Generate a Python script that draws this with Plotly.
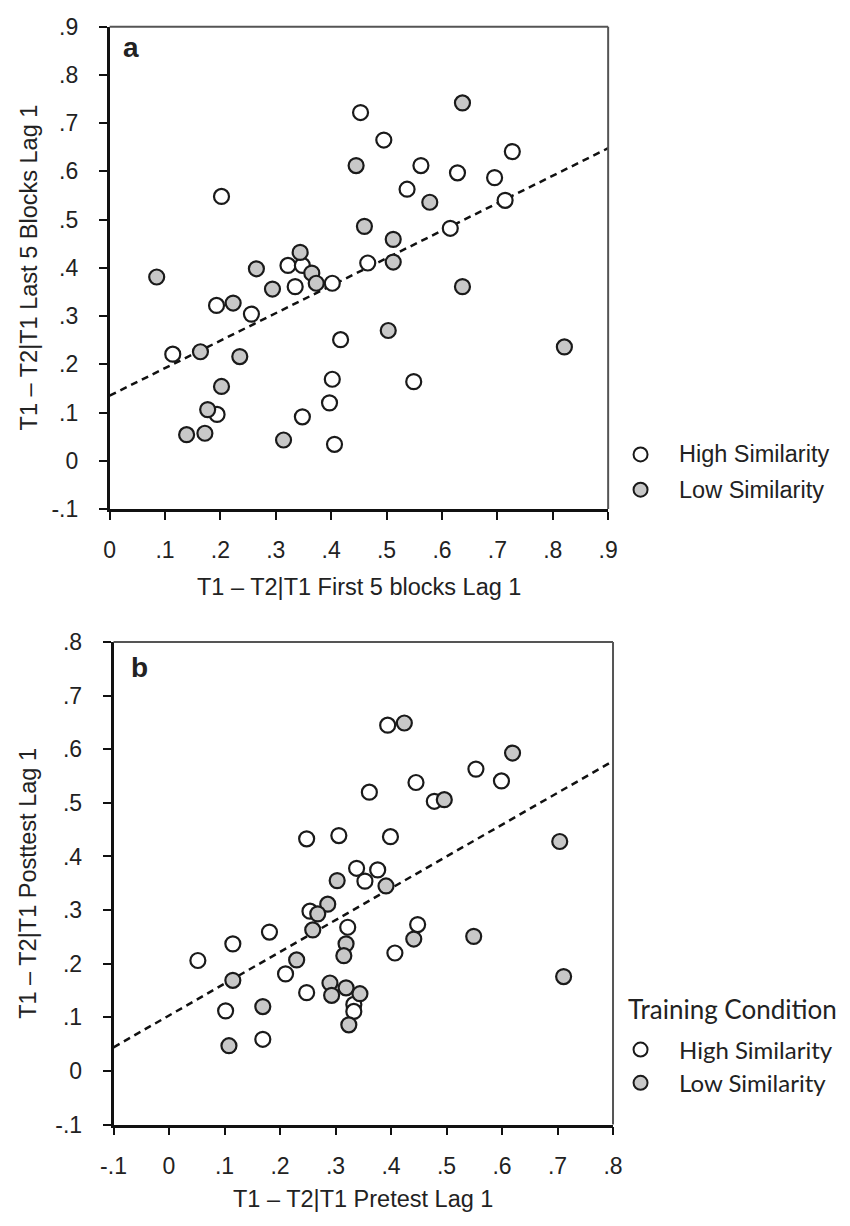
import plotly.graph_objects as go

W, H = 850, 1226

# ---- Panel a: first 5 blocks vs last 5 blocks (Lag 1) ----
a_high_x = [0.202, 0.453, 0.495, 0.727, 0.562, 0.628, 0.695, 0.537, 0.714, 0.615,
            0.466, 0.322, 0.348, 0.335, 0.402, 0.193, 0.256, 0.417, 0.114, 0.402,
            0.397, 0.194, 0.348, 0.406, 0.549]
a_high_y = [0.548, 0.722, 0.665, 0.641, 0.612, 0.597, 0.587, 0.563, 0.540, 0.482,
            0.410, 0.405, 0.405, 0.361, 0.368, 0.322, 0.304, 0.251, 0.221, 0.169,
            0.120, 0.096, 0.091, 0.034, 0.164]
a_low_x = [0.637, 0.445, 0.578, 0.460, 0.512, 0.512, 0.344, 0.265, 0.365, 0.373,
           0.085, 0.294, 0.223, 0.164, 0.235, 0.202, 0.177, 0.139, 0.172, 0.314,
           0.637, 0.503, 0.821]
a_low_y = [0.742, 0.612, 0.536, 0.486, 0.459, 0.412, 0.432, 0.398, 0.389, 0.368,
           0.381, 0.356, 0.327, 0.226, 0.216, 0.154, 0.106, 0.054, 0.057, 0.043,
           0.361, 0.270, 0.236]
a_fit_x = [0.0, 0.9]
a_fit_y = [0.135, 0.648]

# ---- Panel b: pretest vs posttest (Lag 1) ----
b_high_x = [0.394, 0.553, 0.599, 0.445, 0.361, 0.478, 0.399, 0.248, 0.306, 0.376,
            0.338, 0.353, 0.254, 0.322, 0.448, 0.181, 0.115, 0.052, 0.407, 0.210,
            0.248, 0.333, 0.333, 0.102, 0.169]
b_high_y = [0.645, 0.563, 0.541, 0.538, 0.520, 0.503, 0.437, 0.433, 0.439, 0.375,
            0.378, 0.354, 0.298, 0.268, 0.273, 0.259, 0.237, 0.206, 0.220, 0.181,
            0.146, 0.124, 0.111, 0.112, 0.059]
b_low_x = [0.424, 0.619, 0.496, 0.704, 0.303, 0.391, 0.286, 0.268, 0.259, 0.319,
           0.315, 0.230, 0.115, 0.290, 0.293, 0.319, 0.344, 0.324, 0.169, 0.108,
           0.441, 0.549, 0.711]
b_low_y = [0.649, 0.593, 0.506, 0.428, 0.355, 0.345, 0.311, 0.293, 0.263, 0.237,
           0.215, 0.207, 0.169, 0.164, 0.141, 0.155, 0.144, 0.086, 0.120, 0.047,
           0.246, 0.251, 0.176]
b_fit_x = [-0.1, 0.8]
b_fit_y = [0.044, 0.578]

a_ticks_x = [0, 0.1, 0.2, 0.3, 0.4, 0.5, 0.6, 0.7, 0.8, 0.9]
a_ticks_y = [-0.1, 0, 0.1, 0.2, 0.3, 0.4, 0.5, 0.6, 0.7, 0.8, 0.9]
b_ticks_x = [-0.1, 0, 0.1, 0.2, 0.3, 0.4, 0.5, 0.6, 0.7, 0.8]
b_ticks_y = [-0.1, 0, 0.1, 0.2, 0.3, 0.4, 0.5, 0.6, 0.7, 0.8]

group_names = ["High Similarity", "Low Similarity"]
legend_title_b = "Training Condition"


def fmt(v):
    # ".1" style labels without the leading zero
    if abs(v) < 1e-9:
        return "0"
    s = f"{v:.1f}"
    return s.replace("0.", ".")


def px_x(p):
    return p / W


def px_y(p):
    return 1 - p / H


EDGE = "#1a1a1a"
GRAY_FILL = "#c8c8c8"
FONT = "Liberation Sans, Arial, sans-serif"
FONT_B = "Lato, Liberation Sans, sans-serif"
TXT = "#222222"
FS = 23

fig = go.Figure()


def add_panel(fx, fy, hx, hy, lx, ly, xa, ya):
    fig.add_trace(go.Scatter(x=fx, y=fy, mode="lines", xaxis=xa, yaxis=ya,
                             line=dict(color="#111111", width=2.5, dash="7px,5px"),
                             showlegend=False, hoverinfo="skip"))
    fig.add_trace(go.Scatter(x=hx, y=hy, mode="markers", xaxis=xa, yaxis=ya,
                             name=group_names[0], showlegend=False,
                             marker=dict(size=15, color="white",
                                         line=dict(color=EDGE, width=2.2))))
    fig.add_trace(go.Scatter(x=lx, y=ly, mode="markers", xaxis=xa, yaxis=ya,
                             name=group_names[1], showlegend=False,
                             marker=dict(size=15, color=GRAY_FILL,
                                         line=dict(color=EDGE, width=2.2))))


add_panel(a_fit_x, a_fit_y, a_high_x, a_high_y, a_low_x, a_low_y, "x", "y")
add_panel(b_fit_x, b_fit_y, b_high_x, b_high_y, b_low_x, b_low_y, "x2", "y2")

axis_common = dict(showline=True, linecolor="#111111", linewidth=2.5,
                   ticks="outside", ticklen=8, tickwidth=2, tickcolor="#111111",
                   showgrid=False, zeroline=False,
                   tickfont=dict(family=FONT, size=FS, color=TXT))

# panel geometry in pixels
A = dict(l=99.3, r=611.7, t=14.0, b=506.7)
B = dict(l=103.3, r=616.7, t=642.7, b=1135.6)

fig.update_layout(
    width=W, height=H,
    margin=dict(l=0, r=0, t=0, b=0),
    paper_bgcolor="white", plot_bgcolor="white",
    xaxis=dict(domain=[px_x(A["l"]), px_x(A["r"])], range=[0, 0.9], anchor="y",
               tickvals=a_ticks_x, ticktext=[fmt(v) for v in a_ticks_x],
               ticklabelstandoff=11, **axis_common),
    yaxis=dict(domain=[px_y(A["b"]), px_y(A["t"])], range=[-0.1, 0.9], anchor="x",
               tickvals=a_ticks_y, ticktext=[fmt(v) for v in a_ticks_y],
               ticklabelstandoff=16, **axis_common),
    xaxis2=dict(domain=[px_x(B["l"]), px_x(B["r"])], range=[-0.1, 0.8], anchor="y2",
                tickvals=b_ticks_x, ticktext=[fmt(v) for v in b_ticks_x],
                ticklabelstandoff=11, **axis_common),
    yaxis2=dict(domain=[px_y(B["b"]), px_y(B["t"])], range=[-0.1, 0.8], anchor="x2",
                tickvals=b_ticks_y, ticktext=[fmt(v) for v in b_ticks_y],
                ticklabelstandoff=16, **axis_common),
)

# thinner grey top and right frame edges
for xr, yr in (("x", "y"), ("x2", "y2")):
    fig.add_shape(type="line", xref=f"{xr} domain", yref=f"{yr} domain",
                  x0=0, x1=1, y0=1, y1=1, line=dict(color="#555555", width=2))
    fig.add_shape(type="line", xref=f"{xr} domain", yref=f"{yr} domain",
                  x0=1, x1=1, y0=0, y1=1, line=dict(color="#555555", width=2))

annotations = []


def note(text, x, y, size, family=FONT, angle=0, xanchor="center"):
    annotations.append(dict(text=text, x=px_x(x), y=px_y(y), xref="paper", yref="paper",
                            xanchor=xanchor, yanchor="middle", showarrow=False,
                            textangle=angle,
                            font=dict(family=family, size=size, color=TXT)))


# panel letters
note("<b>a</b>", 121, 35, 28)
note("<b>b</b>", 130, 669, 28)
# axis titles
note("T1 – T2|T1 First 5 blocks Lag 1", (A["l"] + A["r"]) / 2, 586, 23.5)
note("T1 – T2|T1 Last 5 Blocks Lag 1", 16, (A["t"] + A["b"]) / 2, 23.5, angle=-90)
note("T1 – T2|T1 Pretest Lag 1", (B["l"] + B["r"]) / 2, 1212, 23.5)
note("T1 – T2|T1 Posttest Lag 1", 16, (B["t"] + B["b"]) / 2, 23.5, angle=-90)

# legends
fills = ["white", GRAY_FILL]


def legend_rows(cx, text_x, ys, size, family):
    for name, fill, yy in zip(group_names, fills, ys):
        fig.add_shape(type="circle", xref="paper", yref="paper",
                      xsizemode="pixel", ysizemode="pixel",
                      xanchor=px_x(cx), yanchor=px_y(yy),
                      x0=-7, x1=7, y0=-7, y1=7,
                      line=dict(color=EDGE, width=2), fillcolor=fill)
        note(name, text_x, yy, size, family=family, xanchor="left")


legend_rows(645, 682, [451, 487], 23.5, FONT)
note(legend_title_b, 630, 1018, 26, family=FONT_B, xanchor="left")
legend_rows(645, 682, [1059, 1093], 24, FONT_B)

fig.update_layout(annotations=annotations)

fig.write_html("out.html")
